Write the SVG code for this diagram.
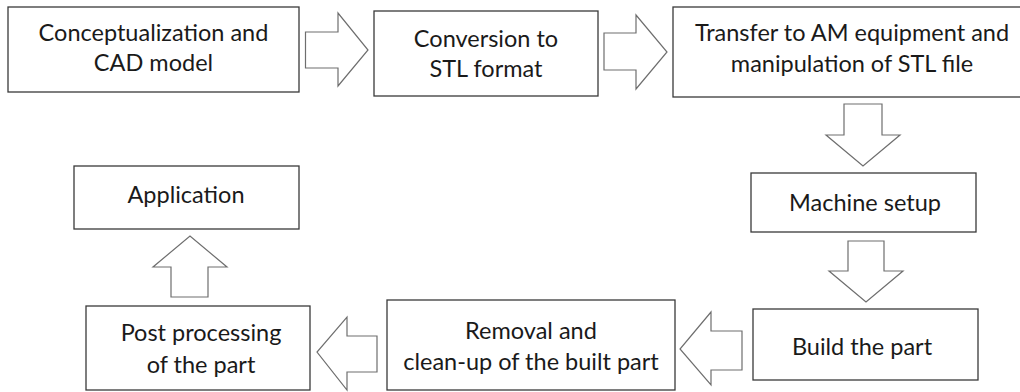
<svg xmlns="http://www.w3.org/2000/svg" width="1020" height="392" viewBox="0 0 1020 392">
<style>
.box{fill:#fff;stroke:#3a3a3a;stroke-width:1.3}
.arr{fill:#fff;stroke:#6e6e6e;stroke-width:1.2;stroke-linejoin:miter}
.t{font-family:Lato,"Open Sans","Liberation Sans",sans-serif;font-size:23.5px;fill:#1a1a1a;text-anchor:middle}
</style>
<rect width="1020" height="392" fill="#fff"/>
<g id="connectors">
<polygon class="arr" points="305.5,32 338,32 338,13 368,50 338,86 338,68 305.5,68"/>
<polygon class="arr" points="604,33 636,33 636,15 667,52 636,89 636,70 604,70"/>
<polygon class="arr" points="844,104 882,104 882,135 900,135 863,166 826,135 844,135"/>
<polygon class="arr" points="848,241 884,241 884,271 903,271 866,302 829,271 848,271"/>
<polygon class="arr" points="742,331 711,331 711,312 680,349 711,385 711,370 742,370"/>
<polygon class="arr" points="377,336 347,336 347,317 317,352 347,390 347,372 377,372"/>
<polygon class="arr" points="171,297 171,267 153,267 190,236 227,267 208,267 208,297"/>
</g>
<g id="n1"><rect class="box" x="8" y="7" width="291" height="85"/>
<text class="t" x="153.5" y="41">Conceptualization and</text><text class="t" x="153.5" y="71">CAD model</text></g>
<g id="n2"><rect class="box" x="374" y="11" width="224" height="85"/>
<text class="t" x="486" y="47">Conversion to</text><text class="t" x="486" y="77">STL format</text></g>
<g id="n3"><rect class="box" x="673" y="7" width="360" height="90"/>
<text class="t" x="852" y="41">Transfer to AM equipment and</text><text class="t" x="852" y="72">manipulation of STL file</text></g>
<g id="n4"><rect class="box" x="751" y="173" width="225" height="59"/>
<text class="t" x="865" y="211">Machine setup</text></g>
<g id="n5"><rect class="box" x="753" y="309" width="225" height="71"/>
<text class="t" x="862" y="355">Build the part</text></g>
<g id="n6"><rect class="box" x="387" y="300" width="288" height="90"/>
<text class="t" x="531" y="339">Removal and</text><text class="t" x="531" y="370">clean-up of the built part</text></g>
<g id="n7"><rect class="box" x="86" y="306" width="224" height="84"/>
<text class="t" x="201" y="341">Post processing</text><text class="t" x="201" y="373">of the part</text></g>
<g id="n8"><rect class="box" x="74" y="166" width="225" height="63"/>
<text class="t" x="186" y="203">Application</text></g>
</svg>
